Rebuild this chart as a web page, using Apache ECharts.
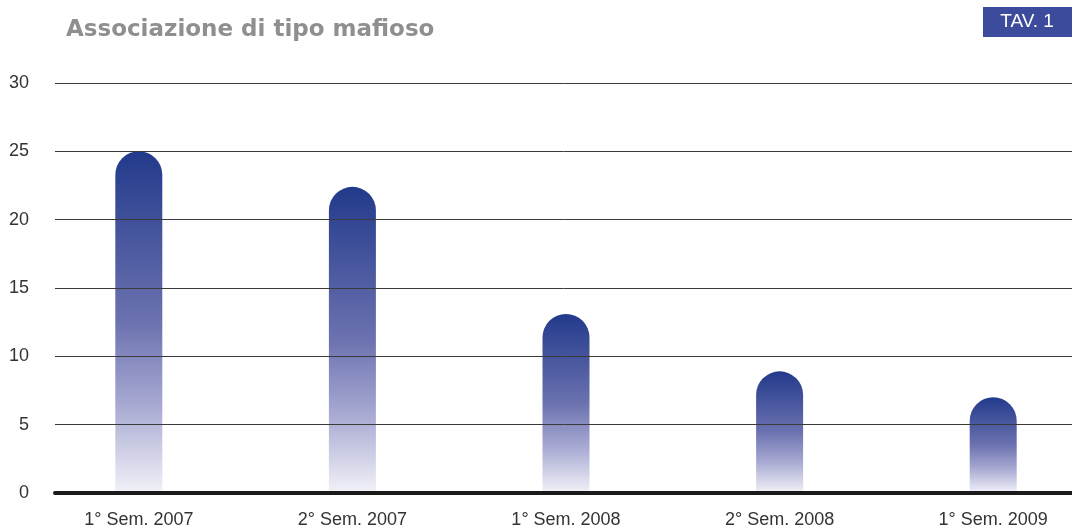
<!DOCTYPE html>
<html>
<head>
<meta charset="utf-8">
<script src="https://cdn.jsdelivr.net/npm/echarts@6/dist/echarts.min.js"></script>
<style>
    html, body { margin: 0; padding: 0; background: #fff; }
    #chart { width: 1072px; height: 528px; }
</style>
</head>
<body>
<div id="chart"></div>
<script>
    var categories = ['1° Sem. 2007', '2° Sem. 2007', '1° Sem. 2008', '2° Sem. 2008', '1° Sem. 2009'];
    var values = [25, 22.4, 13.1, 8.9, 7];
    var yTicks = [0, 5, 10, 15, 20, 25, 30];

    var chart = echarts.init(document.getElementById('chart'));

    // gradient per bar: dark navy on top fading to almost white at the base
    var barColor = new echarts.graphic.LinearGradient(0, 0, 0, 1, [
        { offset: 0, color: '#223a8b' },
        { offset: 0.5, color: '#6c72b0' },
        { offset: 0.75, color: '#a9abd3' },
        { offset: 1, color: '#f2f2f8' }
    ]);

    var option = {
        animation: false,
        backgroundColor: '#fff',
        textStyle: { fontFamily: 'Liberation Sans, Arial, sans-serif' },
        title: {
            text: 'Associazione di tipo mafioso',
            left: 61,
            top: 14,
            textStyle: {
                color: '#8f8f91',
                fontSize: 23,
                fontWeight: 'bold',
                fontFamily: 'DejaVu Sans'
            }
        },
        graphic: [{
            type: 'rect',
            shape: { x: 983, y: 7, width: 89, height: 30 },
            style: { fill: '#3c4b9b' }
        }, {
            type: 'text',
            x: 1027,
            y: 22,
            style: {
                text: 'TAV. 1',
                fill: '#fff',
                fontSize: 19,
                fontFamily: 'Liberation Sans, Arial, sans-serif',
                align: 'center',
                verticalAlign: 'middle'
            }
        }],
        grid: [
            { left: 55, right: 0, top: 83, bottom: 35 },
            { left: 32, right: -28, top: 83, bottom: 35, outerBoundsMode: 'none' }
        ],
        xAxis: [{
            gridIndex: 0,
            type: 'category',
            data: categories,
            z: 10,
            axisLine: { lineStyle: { color: '#1a1a1a', width: 4 } },
            axisTick: { show: false },
            axisLabel: { show: false }
        }, {
            gridIndex: 1,
            type: 'category',
            data: categories,
            axisLine: { show: false },
            axisTick: { show: false },
            axisLabel: { color: '#333', fontSize: 18, margin: 18 }
        }],
        yAxis: [{
            gridIndex: 0,
            type: 'value',
            min: yTicks[0],
            max: yTicks[yTicks.length - 1],
            interval: 5,
            z: 10,
            axisLine: { show: false },
            axisTick: { show: false },
            axisLabel: { color: '#333', fontSize: 18, margin: 26 },
            splitLine: { lineStyle: { color: '#3a3a3a', width: 1 } }
        }, {
            gridIndex: 1,
            type: 'value',
            min: yTicks[0],
            max: yTicks[yTicks.length - 1],
            interval: 5,
            show: false,
            splitLine: { show: false }
        }],
        series: [{
            type: 'bar',
            xAxisIndex: 1,
            yAxisIndex: 1,
            data: values,
            barWidth: 47,
            itemStyle: {
                color: barColor,
                borderRadius: [23.5, 23.5, 0, 0]
            }
        }]
    };

    chart.setOption(option);
</script>
</body>
</html>
